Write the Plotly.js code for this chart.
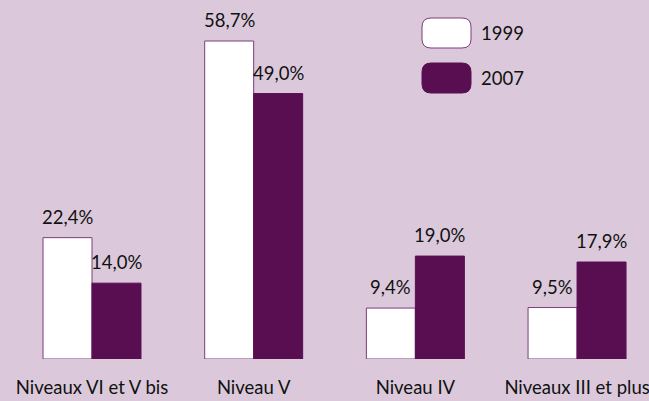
<!DOCTYPE html>
<html>
<head>
<meta charset="utf-8">
<script src="https://cdn.plot.ly/plotly-3.0.1.min.js"></script>
<style>html,body{margin:0;padding:0;background:#dbc9db;}#chart{width:649px;height:401px;}</style>
</head>
<body>
<div id="chart"></div>
<script>
var categories = ["Niveaux VI et V bis", "Niveau V", "Niveau IV", "Niveaux III et plus"];
var seriesNames = ["1999", "2007"];
var values1999 = [22.4, 58.7, 9.4, 9.5];
var values2007 = [14.0, 49.0, 19.0, 17.9];

function fmt(v){ return v.toFixed(1).replace('.', ',') + '%'; }

var W = 649, H = 401, mt = 0, mb = 42, ml = 0, mr = 0;
var PH = H - mt - mb, PW = W - ml - mr;
function px2paperX(px){ return (px - ml) / PW; }
function px2paperY(py){ return (mt + PH - py) / PH; }
function roundRect(x0, y0, x1, y1, r){
  var X = px2paperX, Y = px2paperY;
  return 'M' + X(x0 + r) + ',' + Y(y0) +
    ' L' + X(x1 - r) + ',' + Y(y0) +
    ' Q' + X(x1) + ',' + Y(y0) + ' ' + X(x1) + ',' + Y(y0 + r) +
    ' L' + X(x1) + ',' + Y(y1 - r) +
    ' Q' + X(x1) + ',' + Y(y1) + ' ' + X(x1 - r) + ',' + Y(y1) +
    ' L' + X(x0 + r) + ',' + Y(y1) +
    ' Q' + X(x0) + ',' + Y(y1) + ' ' + X(x0) + ',' + Y(y1 - r) +
    ' L' + X(x0) + ',' + Y(y0 + r) +
    ' Q' + X(x0) + ',' + Y(y0) + ' ' + X(x0 + r) + ',' + Y(y0) + ' Z';
}

var fontFam = 'Lato, "Open Sans", sans-serif';
var fs = 18.5;
var darkColor = '#5a0e52';
var edgeColor = '#7d3c7a';
var barHalf = 24.5;

var traces = [
  {
    type: 'bar', name: seriesNames[0], x: categories, y: values1999,
    marker: {color: '#ffffff', line: {color: edgeColor, width: 1}}
  },
  {
    type: 'bar', name: seriesNames[1], x: categories, y: values2007,
    marker: {color: darkColor, line: {color: darkColor, width: 1}}
  }
];

var annotations = [];
categories.forEach(function(c, i){
  [[values1999, -barHalf], [values2007, barHalf]].forEach(function(s){
    annotations.push({
      x: c, y: s[0][i], xref: 'x', yref: 'y', text: fmt(s[0][i]),
      showarrow: false, xanchor: 'center', yanchor: 'bottom',
      xshift: s[1], yshift: 8,
      font: {family: fontFam, size: fs, color: '#111'}
    });
  });
});
annotations.push(
  {xref: 'paper', yref: 'paper', x: px2paperX(479), y: px2paperY(33), text: seriesNames[0],
   showarrow: false, xanchor: 'left', yanchor: 'middle', font: {family: fontFam, size: fs, color: '#111'}},
  {xref: 'paper', yref: 'paper', x: px2paperX(479), y: px2paperY(78), text: seriesNames[1],
   showarrow: false, xanchor: 'left', yanchor: 'middle', font: {family: fontFam, size: fs, color: '#111'}}
);

var layout = {
  width: W, height: H,
  margin: {l: ml, r: mr, t: mt, b: mb},
  paper_bgcolor: '#dbc9db', plot_bgcolor: '#dbc9db',
  showlegend: false,
  barmode: 'group', bargap: 0.394, bargroupgap: 0,
  font: {family: fontFam, size: fs, color: '#111'},
  xaxis: {
    type: 'category', range: [-0.569, 3.445],
    showline: false, showgrid: false, zeroline: false, ticks: '',
    ticklabelstandoff: 15,
    tickfont: {family: fontFam, size: fs, color: '#111'}
  },
  yaxis: {
    range: [0, 66.27], visible: false, showgrid: false, zeroline: false
  },
  shapes: [
    {type: 'path', xref: 'paper', yref: 'paper', path: roundRect(422, 18, 471, 48, 9),
     fillcolor: '#ffffff', line: {color: edgeColor, width: 1}},
    {type: 'path', xref: 'paper', yref: 'paper', path: roundRect(422, 63, 471, 93, 9),
     fillcolor: darkColor, line: {color: darkColor, width: 1}}
  ],
  annotations: annotations
};

Plotly.newPlot('chart', traces, layout, {displayModeBar: false, staticPlot: true});
</script>
</body>
</html>
